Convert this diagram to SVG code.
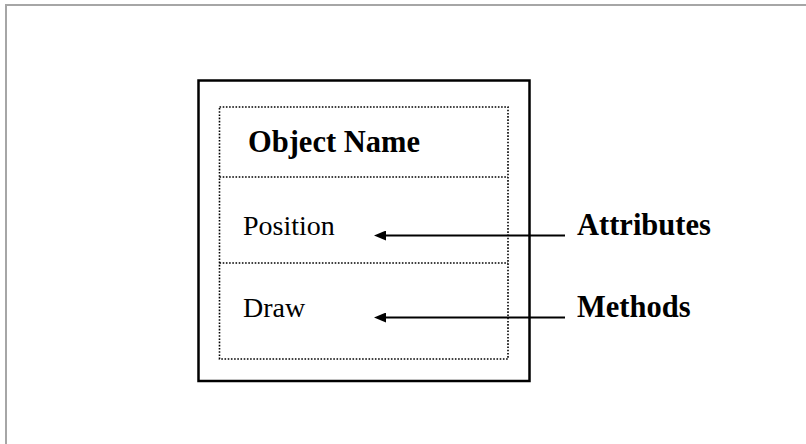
<svg xmlns="http://www.w3.org/2000/svg" width="806" height="444" viewBox="0 0 806 444">
  <defs>
    <marker id="arrow" viewBox="0 0 12 10" refX="0" refY="5" markerWidth="12" markerHeight="10" markerUnits="userSpaceOnUse" orient="auto-start-reverse">
      <path d="M0,0 L12,5 L0,10 Z" fill="#000"/>
    </marker>
    <style>
      .frame { fill: none; stroke: #a6a6a6; stroke-width: 2; }
      .outer { fill: #fff; stroke: #000; stroke-width: 2.5; }
      .dotted { fill: none; stroke: #000; stroke-width: 1.6; stroke-dasharray: 1.6 1.6; }
      .label { font-family: "Liberation Serif", "Times New Roman", serif; font-size: 28px; fill: #000; }
      .bold { font-weight: bold; font-size: 30.5px; }
      .conn { stroke: #000; stroke-width: 2; fill: none; }
    </style>
  </defs>
  <rect x="0" y="0" width="806" height="444" fill="#fff"/>
  <path class="frame" d="M6,444 L6,5 L806,5"/>

  <g id="object">
    <rect class="outer" x="198.5" y="80.5" width="331" height="300.5"/>
    <rect class="dotted" x="219.5" y="107" width="288.5" height="252"/>
    <line class="dotted" x1="219.5" y1="177" x2="508" y2="177"/>
    <line class="dotted" x1="219.5" y1="263" x2="508" y2="263"/>
    <text class="label bold" x="248" y="152">Object Name</text>
    <text class="label" x="243" y="235">Position</text>
    <text class="label" x="243" y="317">Draw</text>
  </g>

  <g id="attributes">
    <text class="label bold" x="577" y="235">Attributes</text>
  </g>
  <g id="methods">
    <text class="label bold" x="577" y="317">Methods</text>
  </g>

  <g id="connectors">
    <line class="conn" x1="565" y1="235.5" x2="386" y2="235.5" marker-end="url(#arrow)"/>
    <line class="conn" x1="565" y1="317.5" x2="386" y2="317.5" marker-end="url(#arrow)"/>
  </g>
</svg>
